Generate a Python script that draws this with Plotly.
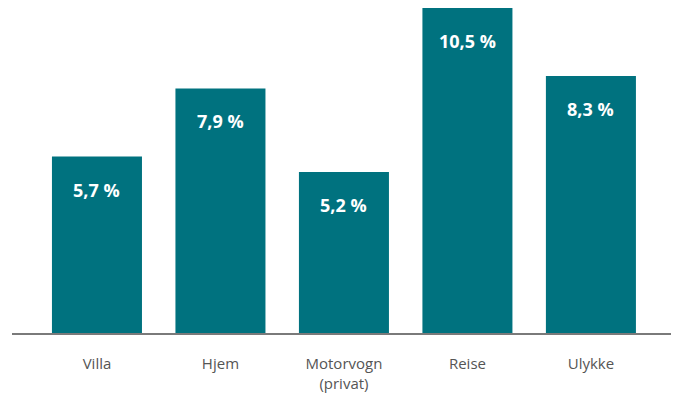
import plotly.graph_objects as go

categories = ["Villa", "Hjem", "Motorvogn<br>(privat)", "Reise", "Ulykke"]
values = [5.7, 7.9, 5.2, 10.5, 8.3]
labels = ["5,7 %", "7,9 %", "5,2 %", "10,5 %", "8,3 %"]

x = list(range(len(categories)))
color = "#00727F"

fig = go.Figure(go.Bar(
    x=x, y=values, marker=dict(color=color, line=dict(width=0)),
    width=0.729, hoverinfo="skip",
))

for xi, v, t in zip(x, values, labels):
    fig.add_annotation(x=xi, y=v, text=f"<b>{t}</b>", showarrow=False,
                       yanchor="middle", yshift=-33,
                       font=dict(family="Open Sans", size=18, color="white"))

# page body has an 8px default margin; margins compensate for it
fig.update_layout(
    width=679, height=394,
    margin=dict(l=4, r=11, t=0, b=69),
    paper_bgcolor="white", plot_bgcolor="white",
    showlegend=False,
    xaxis=dict(range=[-0.688, 4.689], tickvals=x, ticktext=categories,
               showline=True, linecolor="#7a7a7a", linewidth=2,
               showgrid=False, zeroline=False, ticks="", ticklabelstandoff=16,
               tickfont=dict(family="Open Sans", size=15, color="#555555")),
    yaxis=dict(range=[0, 10.5], visible=False, showgrid=False, zeroline=False),
)

fig.write_html("out.html")
